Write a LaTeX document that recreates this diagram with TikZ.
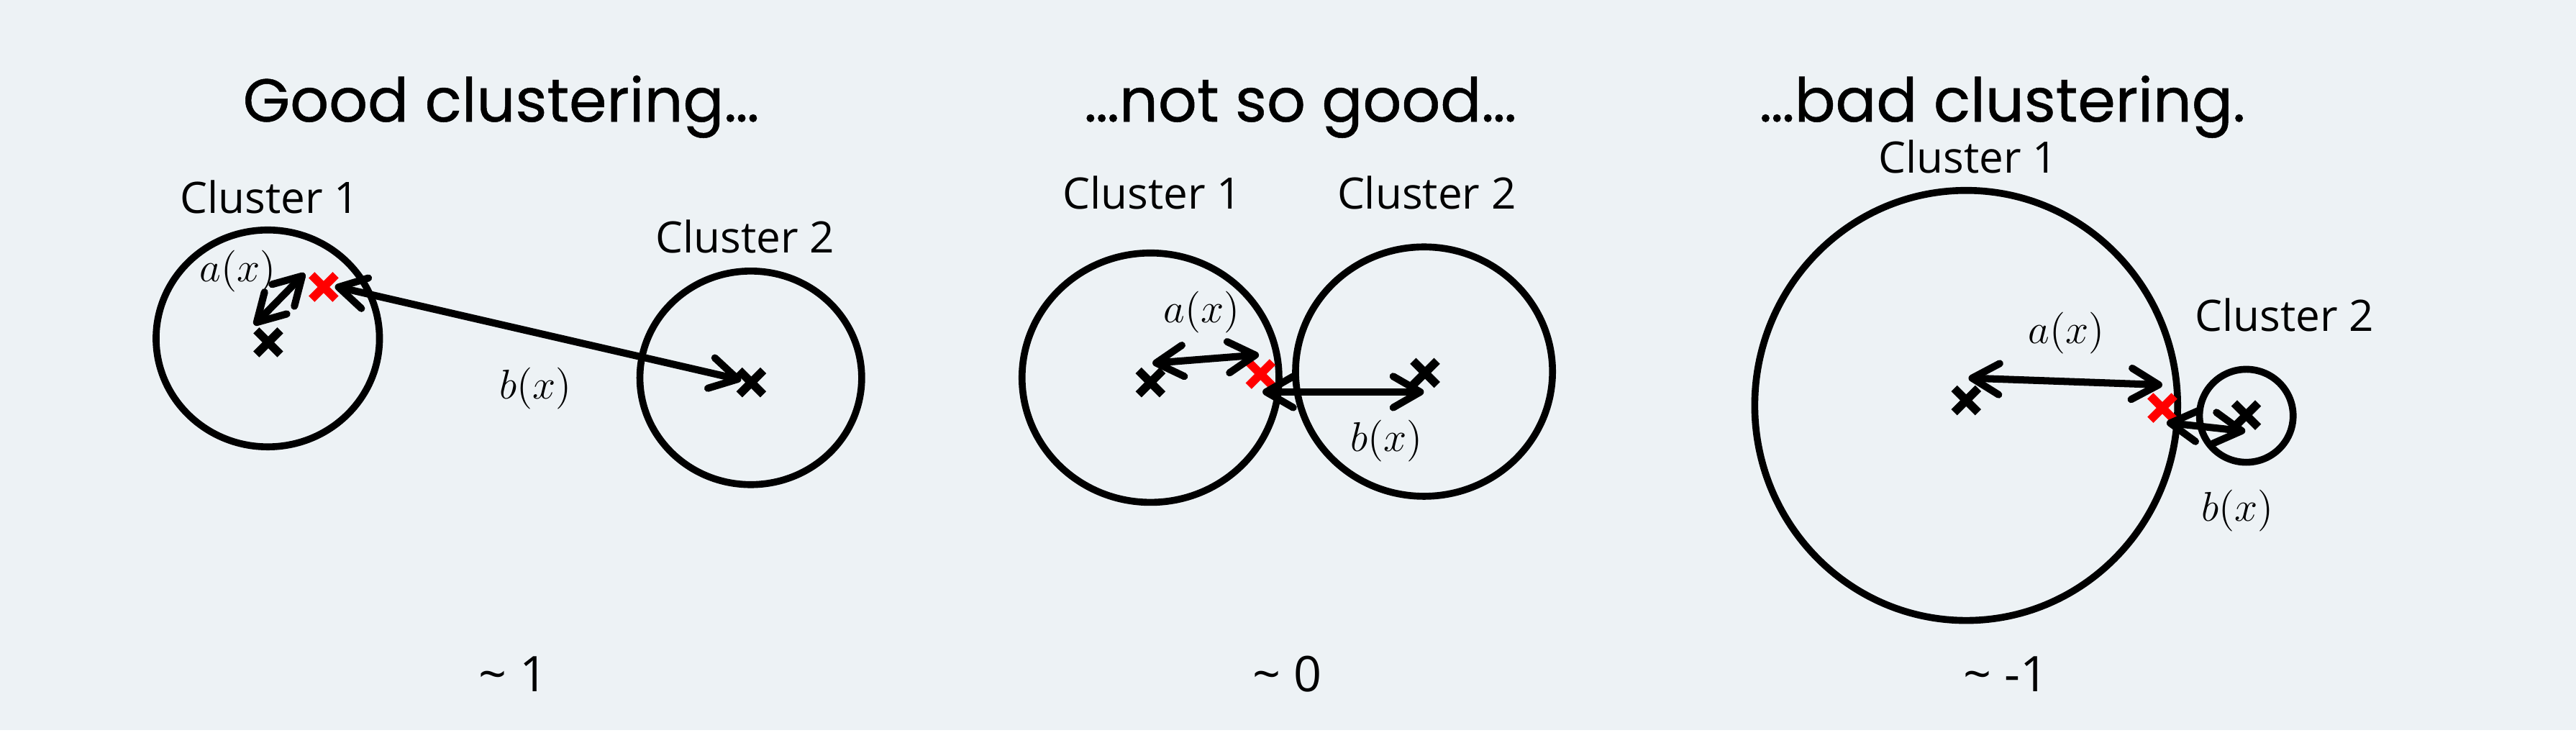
\documentclass[tikz,border=0pt]{standalone}
\usepackage{fontspec}
\setmainfont{Open Sans}
\newfontfamily\headfont{Poppins}[FakeBold=0.6]
\usetikzlibrary{arrows.meta,shapes.misc}
\definecolor{slbg}{RGB}{237,242,245}
\definecolor{slred}{RGB}{255,0,0}
\tikzset{
  ring/.style={line width=2.4pt},
  dist/.style={line width=2.5pt,line cap=round,
    {Straight Barb[length=3.3mm,width=3.8mm,round]}-{Straight Barb[length=3.3mm,width=3.8mm,round]}},
  xmark/.style={cross out,draw,line width=2.9pt,minimum size=1.9mm,inner sep=0pt},
  head/.style={font=\headfont\fontsize{21}{24}\selectfont,anchor=base},
  lbl/.style={font=\fontsize{15}{18}\selectfont,anchor=base},
  fn/.style={font=\fontsize{15}{18}\selectfont},
  score/.style={font=\fontsize{17}{20}\selectfont,anchor=base}
}

\begin{document}
\begin{tikzpicture}[x=.2mm,y=-.2mm]
    \useasboundingbox (0,0) rectangle (1568,449);
    \fill[slbg] (0,0) rectangle (1568,444.4);
    % good clustering
    \node[head] (gT) at (305,74) {Good clustering…};
    \node[lbl] (gL1) at (164,130) {Cluster 1};
    \node[lbl] (gL2) at (453.5,154) {Cluster 2};
    \draw[ring] (163,206) ellipse (68 and 66);
    \draw[ring] (457,230) ellipse (67.5 and 65);
    \node[xmark] (gX1) at (163.3,208.4) {};
    \node[xmark,slred] (gR) at (197,174.7) {};
    \node[xmark] (gX2) at (457.3,232.8) {};
    \coordinate (gA1) at (154.7,197.8); \coordinate (gA2) at (185.5,166.4);
    \coordinate (gB1) at (203.9,174.3); \coordinate (gB2) at (451.2,231.3);
    \draw[dist] (gA1) -- (gA2);
    \draw[dist] (gB1) -- (gB2);
    \node[fn] (gA) at (144.8,165) {$a(x)$};
    \node[fn] (gB) at (326,236.5) {$b(x)$};
    \node[score] (gS) at (312.5,421) {\textasciitilde{} 1};
    % not so good
    \node[head] (mT) at (791.5,74) {…not so good…};
    \node[lbl] (mL1) at (701.4,127) {Cluster 1};
    \node[lbl] (mL2) at (868.4,127) {Cluster 2};
    \draw[ring] (700.3,229.9) ellipse (78.2 and 75.9);
    \draw[ring] (866.8,226.2) ellipse (78.2 and 75.9);
    \node[xmark] (mX1) at (700.3,232.8) {};
    \node[xmark,slred] (mR) at (767.3,227.7) {};
    \node[xmark] (mX2) at (867.4,227) {};
    \coordinate (mA1) at (701.5,221.1); \coordinate (mA2) at (766.3,216);
    \coordinate (mB1) at (768.5,238.6); \coordinate (mB2) at (866.7,238.6);
    \draw[dist] (mA1) -- (mA2);
    \draw[dist] (mB1) -- (mB2);
    \node[fn] (mA) at (731.6,190) {$a(x)$};
    \node[fn] (mB) at (843.9,268.5) {$b(x)$};
    \node[score] (mS) at (783.5,421) {\textasciitilde{} 0};
    % bad clustering
    \node[head] (bT) at (1218.8,74) {…bad clustering.};
    \node[lbl] (bL1) at (1198,105.5) {Cluster 1};
    \node[lbl] (bL2) at (1390.5,201.8) {Cluster 2};
    \draw[ring] (1196.8,246.8) ellipse (128.7 and 130.9);
    \draw[ring] (1367.3,253.1) ellipse (28.5 and 28.3);
    \node[xmark] (bX1) at (1196.8,243.7) {};
    \node[xmark,slred] (bR) at (1316.2,248.3) {};
    \node[xmark] (bX2) at (1367.2,252.7) {};
    \coordinate (bA1) at (1198.2,230.1); \coordinate (bA2) at (1316.2,234.3);
    \coordinate (bB1) at (1318.8,257.3); \coordinate (bB2) at (1366.7,262.5);
    \draw[dist] (bA1) -- (bA2);
    \draw[dist] (bB1) -- (bB2);
    \node[fn] (bA) at (1257.8,202.9) {$a(x)$};
    \node[fn] (bB) at (1362,310.7) {$b(x)$};
    \node[score] (bS) at (1221,421) {\textasciitilde{} -1};
\end{tikzpicture}
\end{document}
